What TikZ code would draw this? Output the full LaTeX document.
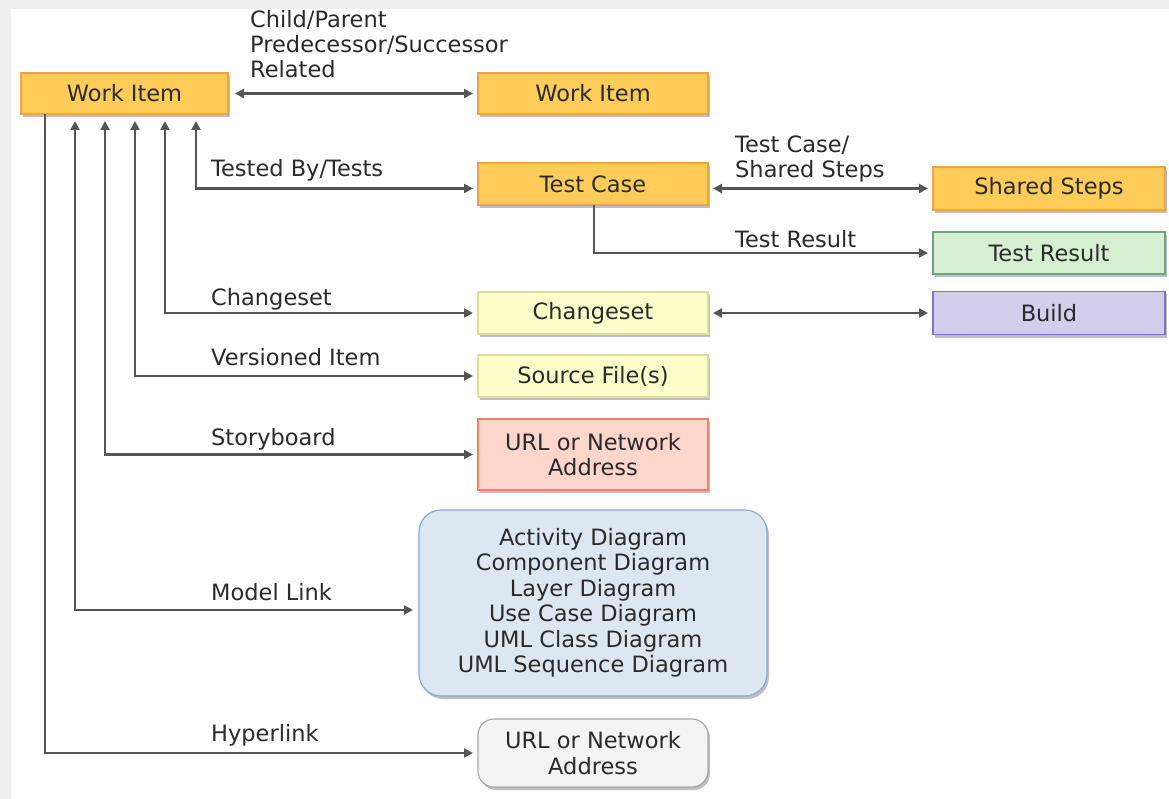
\documentclass[tikz,border=0pt]{standalone}
\usepackage{fontspec}
\setmainfont{DejaVu Sans}
\usetikzlibrary{arrows.meta,shadows}
\definecolor{txt}{HTML}{2A2A2A}
\definecolor{ln}{HTML}{555555}
\definecolor{orfill}{HTML}{FFCC5A}
\definecolor{ordraw}{HTML}{EDA24A}
\definecolor{grfill}{HTML}{D6EFD2}
\definecolor{grdraw}{HTML}{6AA67E}
\definecolor{ylfill}{HTML}{FFFFCC}
\definecolor{yldraw}{HTML}{DDDDA2}
\definecolor{vifill}{HTML}{D2CEEC}
\definecolor{vidraw}{HTML}{7C72D0}
\definecolor{safill}{HTML}{FFD6CB}
\definecolor{sadraw}{HTML}{EE8068}
\definecolor{blfill}{HTML}{DCE7F2}
\definecolor{bldraw}{HTML}{8AA8D8}
\definecolor{gyfill}{HTML}{F4F4F4}
\definecolor{gydraw}{HTML}{A8A8A8}
\definecolor{bg}{HTML}{EFEFEF}
\tikzset{
  box/.style={draw, line width=1.2pt, inner sep=0pt, outer sep=0pt, align=center,
    text=txt, font=\fontsize{22.5}{25.5}\selectfont,
    drop shadow={shadow xshift=2pt, shadow yshift=-3pt, opacity=0.25, fill=black}},
  orbox/.style={box, fill=orfill, draw=ordraw},
  lbl/.style={anchor=base west, inner sep=0pt, text=txt, align=left,
    font=\fontsize{22.5}{25.5}\selectfont},
  conn/.style={draw=ln, line width=2.2pt},
  tip/.tip={Triangle[length=9pt,width=9pt]},
  arr/.style={conn, -tip},
  arrboth/.style={conn, tip-tip},
}
\begin{document}
\begin{tikzpicture}[x=1pt,y=-1pt]
\fill[bg] (0,0) rectangle (1169,799);
\fill[white] (11,9) rectangle (1169,799);
\useasboundingbox (0,0) rectangle (1169,799);

% nodes
\node[orbox, minimum width=207pt, minimum height=41pt] (wi1) at (124.5,93.5) {Work Item};
\node[orbox, minimum width=230pt, minimum height=41pt] (wi2) at (593,93.5) {Work Item};
\node[orbox, minimum width=230pt, minimum height=42pt] (tc) at (593,184) {Test Case};
\node[orbox, minimum width=232pt, minimum height=43pt] (ss) at (1049,188.5) {Shared Steps};
\node[box, fill=grfill, draw=grdraw, minimum width=232pt, minimum height=42pt] (tr) at (1049,253) {Test Result};
\node[box, fill=ylfill, draw=yldraw, minimum width=230pt, minimum height=42pt] (cs) at (593,313) {Changeset};
\node[box, fill=vifill, draw=vidraw, minimum width=232pt, minimum height=43pt] (bd) at (1049,313) {Build};
\node[box, fill=ylfill, draw=yldraw, minimum width=230pt, minimum height=42pt] (sf) at (593,376) {Source File(s)};
\node[box, fill=safill, draw=sadraw, minimum width=230pt, minimum height=71pt] (url1) at (593,454.5) {URL or Network\\Address};
\node[box, fill=blfill, draw=bldraw, rounded corners=22pt, minimum width=348pt, minimum height=186pt] (model) at (593,603)
  {Activity Diagram\\Component Diagram\\Layer Diagram\\Use Case Diagram\\UML Class Diagram\\UML Sequence Diagram};
\node[box, fill=gyfill, draw=gydraw, rounded corners=16pt, minimum width=230pt, minimum height=68pt] (url2) at (593,753) {URL or Network\\Address};

% connectors
\draw[arrboth, shorten <=7pt, shorten >=5pt] (wi1.east) -- (wi2.west);
\draw[arrboth, shorten <=7pt, shorten >=5pt] ([xshift=175pt]wi1.south west) |- (tc.west |- ss.west);
\draw[arrboth, shorten <=7pt, shorten >=5pt] ([xshift=144pt]wi1.south west) |- (cs.west);
\draw[arrboth, shorten <=7pt, shorten >=5pt] ([xshift=114pt]wi1.south west) |- (sf.west);
\draw[arrboth, shorten <=7pt, shorten >=5pt] ([xshift=84pt]wi1.south west) |- (url1.west);
\draw[arrboth, shorten <=7pt, shorten >=6pt] ([xshift=54pt]wi1.south west) |- ([yshift=-7pt]model.west);
\draw[arr, shorten >=5pt] ([xshift=24pt]wi1.south west) |- (url2.west);
\draw[arrboth, shorten <=5pt, shorten >=5pt] (tc.east |- ss.west) -- (ss.west);
\draw[arr, shorten >=5pt] ([xshift=1pt]tc.south) |- (tr.west);
\draw[arrboth, shorten <=5pt, shorten >=5pt] (cs.east) -- (bd.west);

% labels
\node[lbl] (l1) at (250,28) {Child/Parent};
\node[lbl] (l2) at (250,53) {Predecessor/Successor};
\node[lbl] (l3) at (250,78) {Related};
\node[lbl] (l4) at (211,177) {Tested By/Tests};
\node[lbl] (l5) at (735,153) {Test Case/};
\node[lbl] (l6) at (735,178) {Shared Steps};
\node[lbl] (l7) at (735,248) {Test Result};
\node[lbl] (l8) at (211,306) {Changeset};
\node[lbl] (l9) at (211,365) {Versioned Item};
\node[lbl] (l10) at (211,445) {Storyboard};
\node[lbl] (l11) at (211,600) {Model Link};
\node[lbl] (l12) at (211,741) {Hyperlink};
\end{tikzpicture}
\end{document}
